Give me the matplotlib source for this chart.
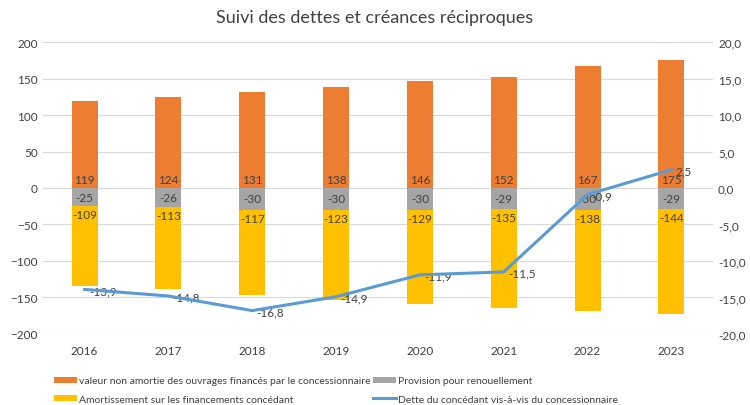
import matplotlib
matplotlib.use("Agg")
import matplotlib.pyplot as plt
import numpy as np

plt.rcParams['font.family'] = ['Lato', 'DejaVu Sans']

years = ["2016", "2017", "2018", "2019", "2020", "2021", "2022", "2023"]
valeur_non_amortie = [119, 124, 131, 138, 146, 152, 167, 175]
provision = [-25, -26, -30, -30, -30, -29, -30, -29]
amortissement = [-109, -113, -117, -123, -129, -135, -138, -144]
dette = [-13.9, -14.8, -16.8, -14.9, -11.9, -11.5, -0.9, 2.5]

ORANGE = "#ED7D31"
GREY = "#A5A5A5"
YELLOW = "#FFC000"
BLUE = "#5B9BD5"
TXT = "#404040"

fig = plt.figure(figsize=(7.5, 4.06), dpi=100)
ax = fig.add_axes([0.057, 0.175, 0.894, 0.719])
ax2 = ax.twinx()

x = np.arange(len(years))
w = 0.31

b1 = ax.bar(x, valeur_non_amortie, w, color=ORANGE, zorder=2,
            label="valeur non amortie des ouvrages financés par le concessionnaire")
b2 = ax.bar(x, provision, w, color=GREY, zorder=2, label="Provision pour renouellement")
b3 = ax.bar(x, amortissement, w, bottom=provision, color=YELLOW, zorder=2,
            label="Amortissement sur les financements concédant")

# data labels
for i in range(len(years)):
    ax.text(x[i], 12, str(valeur_non_amortie[i]), ha="center", va="center",
            fontsize=8.5, color=TXT, zorder=3)
    ax.text(x[i], provision[i] / 2, str(provision[i]), ha="center", va="center",
            fontsize=8.5, color=TXT, zorder=3)
    ax.text(x[i], provision[i] - 12, str(amortissement[i]), ha="center", va="center",
            fontsize=8.5, color=TXT, zorder=3)

ax.set_ylim(-200, 200)
ax.set_yticks(np.arange(-200, 201, 50))
ax.set_xlim(-0.5, len(years) - 0.5)
ax.set_xticks(x)
ax.set_xticklabels(years)
ax.grid(axis="y", color="#D9D9D9", linewidth=0.8, zorder=0)
ax.set_axisbelow(True)

ln, = ax2.plot(x, dette, color=BLUE, linewidth=2.2, zorder=4,
               label="Dette du concédant vis-à-vis du concessionnaire")
for i, v in enumerate(dette):
    ax2.annotate(f"{v:.1f}".replace(".", ","), (x[i], v), xytext=(3, -1),
                 textcoords="offset points", ha="left", va="center",
                 fontsize=8.5, color=TXT)
ax2.set_ylim(-20, 20)
ax2.set_yticks(np.arange(-20, 21, 5))
ax2.set_yticklabels([f"{t:.1f}".replace(".", ",") for t in np.arange(-20, 21, 5)])

for a in (ax, ax2):
    for s in a.spines.values():
        s.set_visible(False)
    a.tick_params(length=0, labelsize=8.5, colors=TXT)
ax.tick_params(axis="x", pad=8)
ax2.set_zorder(ax.get_zorder() + 1)
ax2.patch.set_visible(False)

fig.suptitle("Suivi des dettes et créances réciproques", y=0.975, fontsize=13, color="#404040")

# legend filled column by column -> order so rows read like the original
handles = [b1, b3, b2, ln]
fig.legend(handles, [h.get_label() for h in handles],
           loc="lower left", bbox_to_anchor=(0.06, -0.02), ncol=2, frameon=False,
           fontsize=7.5, labelcolor=TXT, handlelength=2.2, handleheight=0.5,
           columnspacing=0.2, handletextpad=0.2, labelspacing=0.9)

fig.savefig("out.png", dpi=100)
